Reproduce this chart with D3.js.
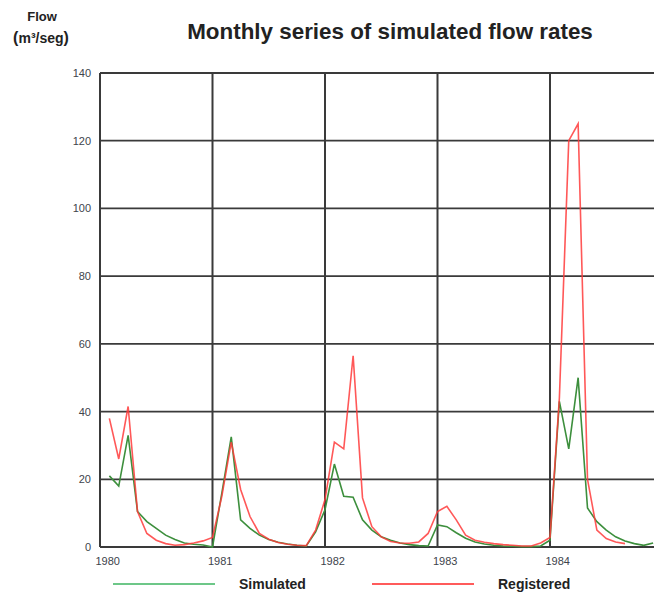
<!DOCTYPE html>
<html>
<head>
<meta charset="utf-8">
<script src="https://cdn.jsdelivr.net/npm/d3@7"></script>
<style>
  body { margin: 0; background: #fff; }
  svg { display: block; font-family: "Liberation Sans", Arial, sans-serif; }
</style>
</head>
<body>
<svg id="chart" width="654" height="595"></svg>
<script>
// monthly values, first point is one month after Jan 1980
var startYear = 1980;
var simulated = [21, 18, 33, 10.5, 7.5, 5.5, 3.5, 2.2, 1.2, 0.8, 0.6, 0,
  16, 32.5, 8, 5.5, 3.5, 2.2, 1.4, 0.9, 0.5, 0.3, 4.5, 11,
  24.5, 15, 14.7, 8, 5, 3, 2, 1.2, 0.7, 0.4, 0.3, 6.5,
  6, 4.2, 2.6, 1.5, 0.9, 0.5, 0.3, 0.2, 0.1, 0.1, 0.3, 2,
  43, 29, 50, 11.5, 7.5, 5, 3, 1.8, 1, 0.5, 1.2];
var registered = [38, 26, 41.5, 10.5, 4, 2, 1, 0.5, 0.7, 1.2, 1.8, 2.8,
  15, 31, 17, 9, 4, 2.3, 1.3, 0.8, 0.5, 0.4, 5, 14,
  31, 29, 56.5, 14.5, 6, 3, 1.6, 1.2, 1.1, 1.5, 4, 10.5,
  12, 8, 3.5, 2, 1.4, 1, 0.7, 0.5, 0.3, 0.3, 1.2, 2.8,
  44, 120, 125, 20, 5, 2.5, 1.5, 1];
var yearTicks = [1980, 1981, 1982, 1983, 1984];
var flowTicks = [0, 20, 40, 60, 80, 100, 120, 140];
var seriesNames = ["Simulated", "Registered"];
var seriesColors = ["#3d8f3d", "#ff3b3b"];
var legendColors = ["#3cb560", "#ff2424"];

var svg = d3.select("#chart");

var x = d3.scaleLinear()
  .domain([1980, 1985])
  .range([100, 662.5]);
var y = d3.scaleLinear()
  .domain([0, 140])
  .range([547, 73]);

function toPoints(arr) {
  return arr.map(function(v, i) { return { t: startYear + (i + 1) / 12, v: v }; });
}

// grid
var grid = svg.append("g");
grid.selectAll("line.h")
  .data(flowTicks)
  .enter().append("line")
  .attr("class", "h")
  .attr("x1", x(1980)).attr("x2", 654)
  .attr("y1", function(d) { return y(d); })
  .attr("y2", function(d) { return y(d); })
  .style("stroke", "#3a3a3a")
  .style("stroke-width", 1.8);
grid.selectAll("line.v")
  .data(yearTicks)
  .enter().append("line")
  .attr("class", "v")
  .attr("x1", function(d) { return x(d); })
  .attr("x2", function(d) { return x(d); })
  .attr("y1", y(140)).attr("y2", y(0))
  .style("stroke", "#3a3a3a")
  .style("stroke-width", 2);

// axes
var yAxis = svg.append("g")
  .attr("transform", "translate(" + x(1980) + ",0)")
  .call(d3.axisLeft(y).tickValues(flowTicks).tickSize(0).tickPadding(9));
yAxis.select(".domain").remove();
yAxis.selectAll("text")
  .style("font-size", "11px")
  .style("fill", "#40444c");

var xAxis = svg.append("g")
  .attr("transform", "translate(0," + y(0) + ")")
  .call(d3.axisBottom(x).tickValues(yearTicks).tickFormat(d3.format("d")).tickSize(0).tickPadding(10));
xAxis.select(".domain").remove();
xAxis.selectAll("text")
  .attr("text-anchor", "start")
  .attr("dx", -5)
  .style("font-size", "11px")
  .style("fill", "#40444c");

// lines
var line = d3.line()
  .x(function(d) { return x(d.t); })
  .y(function(d) { return y(d.v); });

[simulated, registered].forEach(function(s, i) {
  svg.append("path")
    .datum(toPoints(s))
    .attr("d", line)
    .style("fill", "none")
    .style("stroke", seriesColors[i])
    .style("stroke-width", 1.6)
    .style("stroke-opacity", i == 1 ? 0.85 : 1);
});

// title
svg.append("text")
  .attr("x", 390).attr("y", 39)
  .attr("text-anchor", "middle")
  .style("font-size", "22.4px")
  .style("font-weight", "bold")
  .style("fill", "#222")
  .text("Monthly series of simulated flow rates");

svg.append("text")
  .attr("x", 42).attr("y", 21)
  .attr("text-anchor", "middle")
  .style("font-size", "13px")
  .style("font-weight", "bold")
  .style("fill", "#222")
  .text("Flow");
var unit = svg.append("text")
  .attr("x", 41).attr("y", 43)
  .attr("text-anchor", "middle")
  .style("font-size", "14px")
  .style("font-weight", "bold")
  .style("fill", "#222");
unit.append("tspan").style("font-size", "16px").text("(");
unit.append("tspan").text("m³/seg");
unit.append("tspan").style("font-size", "16px").text(")");

// legend
var legendX = [113, 372];
var legend = svg.selectAll("g.legend")
  .data(seriesNames)
  .enter().append("g")
  .attr("class", "legend")
  .attr("transform", function(d, i) { return "translate(" + legendX[i] + ",584)"; });
legend.append("line")
  .attr("x1", 0).attr("x2", 102)
  .style("stroke", function(d, i) { return legendColors[i]; })
  .style("stroke-width", 1.6);
legend.append("text")
  .attr("x", 126).attr("y", 5)
  .style("font-size", "14px")
  .style("font-weight", "bold")
  .style("fill", "#222")
  .text(function(d) { return d; });
</script>
</body>
</html>
